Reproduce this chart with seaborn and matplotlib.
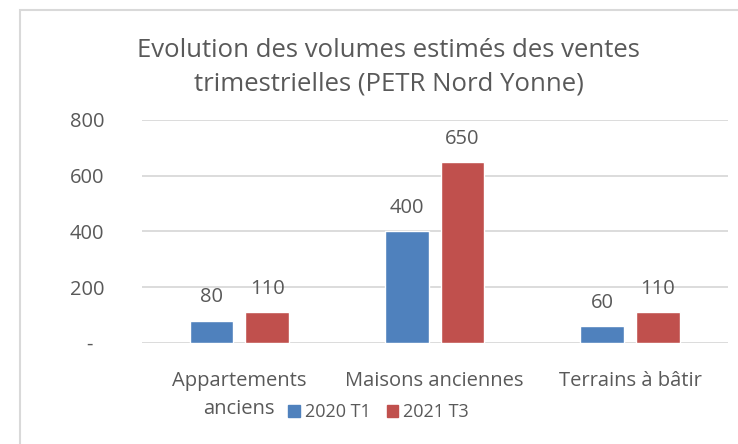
import pandas as pd
import matplotlib.pyplot as plt
import matplotlib.patches as mpatches
import seaborn as sns

categories = ['Appartements\nanciens', 'Maisons anciennes', 'Terrains à bâtir']
series = ['2020 T1', '2021 T3']
v2020 = [80, 400, 60]
v2021 = [110, 650, 110]
yticks = [0, 200, 400, 600, 800]
ytick_labels = ['-  ', '200', '400', '600', '800']

df = pd.DataFrame({
    'cat': categories * 2,
    'serie': [series[0]] * 3 + [series[1]] * 3,
    'val': v2020 + v2021,
})

sns.set_style('white')
plt.rcParams['font.family'] = ['Open Sans', 'DejaVu Sans']
txt = '#595959'

fig = plt.figure(figsize=(7.38, 4.44), dpi=100)
ax = fig.add_axes([0.192, 0.2275, 0.794, 0.5025])

sns.barplot(data=df, x='cat', y='val', hue='serie', ax=ax,
            palette=['#4F81BD', '#C0504D'], width=0.569, gap=0.216,
            saturation=1, errorbar=None)

ax.set_ylim(0, 800)
ax.set_yticks(yticks)
ax.set_yticklabels(ytick_labels)
ax.grid(axis='y', color='#D9D9D9', linewidth=1.3)
ax.set_axisbelow(True)
for s in ax.spines.values():
    s.set_visible(False)
ax.tick_params(axis='y', length=0, pad=27, labelsize=14.5, labelcolor=txt)
ax.tick_params(axis='x', length=0, pad=20, labelsize=14.5, labelcolor=txt)
for lab in ax.get_xticklabels():
    lab.set_linespacing(1.55)
ax.set_xlabel('')
ax.set_ylabel('')

for c in ax.containers:
    ax.bar_label(c, padding=9.5, fontsize=14.5, color=txt)

ax.get_legend().remove()
handles = [mpatches.Patch(color='#4F81BD'), mpatches.Patch(color='#C0504D')]
fig.legend(handles, series, loc='center', bbox_to_anchor=(0.513, 0.072),
           ncol=2, frameon=False, fontsize=13, handlelength=0.65,
           handleheight=0.65, handletextpad=0.25, columnspacing=0.9,
           labelcolor=txt)

fig.text(0.527, 0.848, 'Evolution des volumes estimés des ventes\ntrimestrielles (PETR Nord Yonne)',
         ha='center', va='center', fontsize=18.5, color=txt, linespacing=1.45)

fig.patches.append(mpatches.Rectangle((20 / 738, -0.1), 1.2, 1 - 10 / 444 + 0.1,
                                      transform=fig.transFigure, fill=False,
                                      edgecolor='#D9D9D9', linewidth=1.5))

fig.savefig('out.png', dpi=100)
